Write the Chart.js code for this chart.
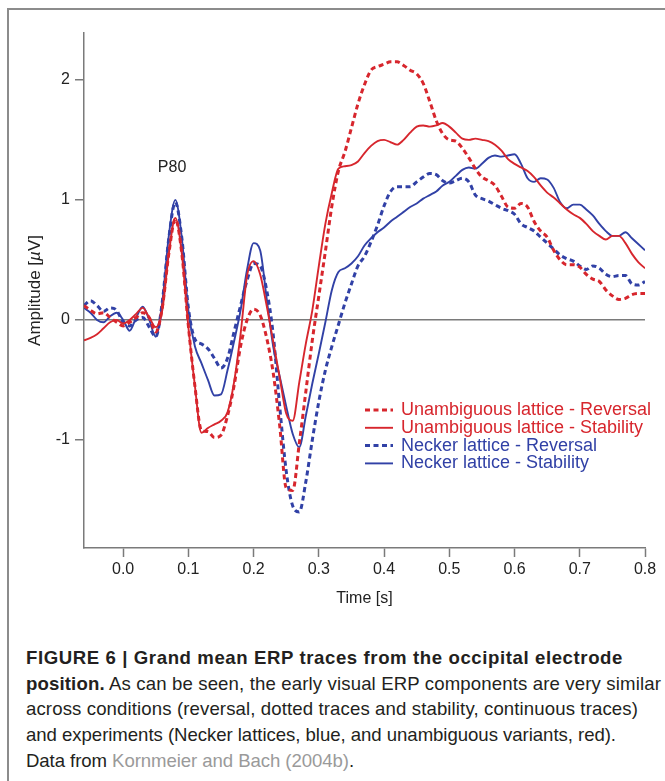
<!DOCTYPE html>
<html>
<head>
<meta charset="utf-8">
<script src="https://cdn.jsdelivr.net/npm/chart.js@4.4.1/dist/chart.umd.min.js"></script>
<style>
  html, body { margin: 0; padding: 0; background: #fff; }
  body { width: 665px; height: 781px; position: relative; overflow: hidden; font-family: "Liberation Sans", Arial, sans-serif; }
  #frame { position: absolute; left: 7px; top: 8px; width: 720px; height: 800px; border-top: 2px solid #8c8c8c; border-left: 2px solid #8c8c8c; }
  #chart { position: absolute; left: 0; top: 0; }
  #caption { position: absolute; left: 26px; top: 645px; font-size: 18.6px; line-height: 25.7px; color: #231f20; white-space: nowrap; }
  #caption .linea { display: block; }
  #caption b { font-weight: bold; }
  #caption .ref { color: #9a9a9a; }
</style>
</head>
<body>
<div id="frame"></div>
<canvas id="chart" width="665" height="620"></canvas>
<div id="caption">
  <span class="linea" data-ancho="597"><b>FIGURE 6 | Grand mean ERP traces from the occipital electrode</b></span>
  <span class="linea" data-ancho="635"><b>position.</b> As can be seen, the early visual ERP components are very similar</span>
  <span class="linea" data-ancho="612">across conditions (reversal, dotted traces and stability, continuous traces)</span>
  <span class="linea" data-ancho="590">and experiments (Necker lattices, blue, and unambiguous variants, red).</span>
  <span class="linea" data-ancho="328">Data from <span class="ref">Kornmeier and Bach (2004b)</span>.</span>
</div>
<script>
// tiempos (s)
const tiempos = [
  -0.06, -0.05, -0.04, -0.03, -0.02, -0.01, 0.00, 0.01, 0.02, 0.03,
  0.04, 0.05, 0.06, 0.07, 0.08, 0.09, 0.10, 0.11, 0.12, 0.13,
  0.14, 0.15, 0.16, 0.17, 0.18, 0.19, 0.20, 0.21, 0.22, 0.23,
  0.24, 0.25, 0.26, 0.27, 0.28, 0.29, 0.30, 0.31, 0.32, 0.33,
  0.34, 0.35, 0.36, 0.37, 0.38, 0.39, 0.40, 0.41, 0.42, 0.43,
  0.44, 0.45, 0.46, 0.47, 0.48, 0.49, 0.50, 0.51, 0.52, 0.53,
  0.54, 0.55, 0.56, 0.57, 0.58, 0.59, 0.60, 0.61, 0.62, 0.63,
  0.64, 0.65, 0.66, 0.67, 0.68, 0.69, 0.70, 0.71, 0.72, 0.73,
  0.74, 0.75, 0.76, 0.77, 0.78, 0.79, 0.80
];

// amplitudes (µV)
const unambReversal = [
  0.12, 0.08, 0.05, 0.06, 0.02, -0.02, -0.05, -0.02, 0.02, 0.06,
  0.02, -0.10, 0.10, 0.55, 0.84, 0.55, -0.05, -0.55, -0.92, -0.93,
  -0.98, -0.96, -0.80, -0.55, -0.22, 0.00, 0.09, 0.04, -0.15, -0.44,
  -0.88, -1.40, -1.42, -1.03, -0.60, -0.17, 0.20, 0.57, 0.95, 1.24,
  1.40, 1.60, 1.80, 1.96, 2.08, 2.11, 2.13, 2.15, 2.15, 2.12,
  2.08, 2.05, 1.97, 1.82, 1.66, 1.55, 1.50, 1.49, 1.43, 1.35,
  1.26, 1.19, 1.16, 1.12, 1.03, 0.94, 0.93, 0.97, 0.94, 0.82,
  0.74, 0.69, 0.58, 0.50, 0.46, 0.46, 0.44, 0.38, 0.34, 0.32,
  0.25, 0.20, 0.17, 0.18, 0.21, 0.22, 0.22
];
const unambStability = [
  -0.17, -0.15, -0.12, -0.07, -0.02, 0.00, -0.03, 0.00, 0.05, 0.10,
  0.02, -0.06, 0.08, 0.55, 0.85, 0.55, -0.06, -0.55, -0.94, -0.90,
  -0.87, -0.84, -0.77, -0.52, -0.12, 0.37, 0.49, 0.38, 0.12, -0.18,
  -0.48, -0.78, -0.84, -0.52, -0.20, 0.08, 0.45, 0.80, 1.06, 1.26,
  1.28, 1.29, 1.32, 1.39, 1.45, 1.49, 1.50, 1.48, 1.46, 1.50,
  1.56, 1.61, 1.62, 1.61, 1.62, 1.64, 1.61, 1.56, 1.51, 1.50,
  1.51, 1.50, 1.49, 1.46, 1.41, 1.34, 1.30, 1.27, 1.24, 1.19,
  1.12, 1.06, 1.02, 0.97, 0.92, 0.88, 0.85, 0.80, 0.74, 0.70,
  0.67, 0.70, 0.70, 0.64, 0.55, 0.48, 0.43
];
const neckerReversal = [
  0.12, 0.16, 0.12, 0.07, 0.10, 0.08, -0.02, -0.05, 0.00, 0.02,
  -0.06, -0.14, 0.15, 0.68, 0.98, 0.68, 0.10, -0.16, -0.20, -0.24,
  -0.32, -0.40, -0.32, -0.10, 0.12, 0.33, 0.47, 0.45, 0.25, -0.12,
  -0.72, -1.26, -1.55, -1.60, -1.35, -1.00, -0.68, -0.42, -0.22, -0.04,
  0.14, 0.30, 0.45, 0.53, 0.65, 0.79, 0.95, 1.07, 1.11, 1.11,
  1.11, 1.15, 1.19, 1.22, 1.21, 1.16, 1.14, 1.16, 1.18, 1.15,
  1.04, 1.01, 0.99, 0.96, 0.93, 0.91, 0.88, 0.80, 0.77, 0.74,
  0.69, 0.64, 0.59, 0.54, 0.51, 0.49, 0.45, 0.42, 0.45, 0.43,
  0.38, 0.36, 0.37, 0.37, 0.30, 0.29, 0.32
];
const neckerStability = [
  0.10, 0.06, 0.00, -0.02, 0.03, 0.06, 0.00, -0.09, 0.02, 0.11,
  0.00, -0.14, 0.15, 0.70, 1.00, 0.68, 0.08, -0.22, -0.36, -0.50,
  -0.63, -0.62, -0.42, -0.18, 0.08, 0.42, 0.64, 0.58, 0.18, -0.22,
  -0.47, -0.72, -0.95, -1.06, -0.80, -0.53, -0.28, -0.02, 0.25, 0.40,
  0.43, 0.47, 0.53, 0.62, 0.68, 0.73, 0.77, 0.82, 0.86, 0.90,
  0.94, 0.97, 1.01, 1.04, 1.07, 1.12, 1.15, 1.20, 1.25, 1.27,
  1.26, 1.30, 1.35, 1.37, 1.36, 1.37, 1.38, 1.30, 1.18, 1.15,
  1.18, 1.17, 1.10, 0.98, 0.93, 0.96, 0.96, 0.92, 0.87, 0.80,
  0.74, 0.70, 0.70, 0.73, 0.68, 0.63, 0.58
];

const ticksTiempo = [0.0, 0.1, 0.2, 0.3, 0.4, 0.5, 0.6, 0.7, 0.8];
const ticksAmplitud = [-1, 0, 1, 2];

const ROJO = "#d7262d";
const AZUL = "#3141a6";
const FUENTE = '"Liberation Sans", Arial, sans-serif';

// Ajustar el ancho de cada linea del pie de figura
document.querySelectorAll("#caption .linea").forEach(linea => {
    const objetivo = parseFloat(linea.dataset.ancho);
    const r = document.createRange();
    r.selectNodeContents(linea);
    const actual = r.getBoundingClientRect().width;
    const n = linea.textContent.length;
    if (n > 1) linea.style.letterSpacing = ((objetivo - actual) / n) + "px";
});

function serie(label, valores, color, punteada) {
    return {
        label: label,
        data: valores.map((v, i) => ({ x: tiempos[i], y: v })),
        borderColor: color,
        borderWidth: punteada ? 3 : 1.9,
        borderDash: punteada ? [5, 3.5] : [],
        pointRadius: 0,
        fill: false,
        cubicInterpolationMode: "monotone"
    };
}

// leyenda dentro del area + etiqueta P80 + titulo eje Y con µ en cursiva
const extras = {
    id: "extras",
    afterDatasetsDraw(chart) {
        const ctx = chart.ctx;
        const sx = chart.scales.x, sy = chart.scales.y;

        ctx.save();
        ctx.fillStyle = "#222";
        ctx.font = "16px " + FUENTE;
        ctx.textAlign = "center";
        ctx.textBaseline = "middle";
        ctx.fillText("P80", sx.getPixelForValue(0.075), sy.getPixelForValue(1.27));

        chart.data.datasets.forEach((ds, i) => {
            const y = 410 + i * 17.8;
            ctx.strokeStyle = ds.borderColor;
            ctx.lineWidth = ds.borderWidth;
            ctx.setLineDash(ds.borderDash);
            ctx.beginPath();
            ctx.moveTo(365, y);
            ctx.lineTo(393, y);
            ctx.stroke();
            ctx.setLineDash([]);
            ctx.fillStyle = ds.borderColor;
            ctx.font = "18px " + FUENTE;
            ctx.textAlign = "left";
            ctx.fillText(ds.label, 401, y);
        });

        // Amplitude [µV]
        const partes = [["Amplitude [", "17px "], ["\u00b5", "italic 17px "], ["V]", "17px "]];
        let total = 0;
        partes.forEach(p => { ctx.font = p[1] + FUENTE; total += ctx.measureText(p[0]).width; });
        const cy = (chart.chartArea.top + chart.chartArea.bottom) / 2;
        ctx.translate(35, cy);
        ctx.rotate(-Math.PI / 2);
        ctx.fillStyle = "#222";
        ctx.textAlign = "left";
        let px = -total / 2;
        partes.forEach(p => {
            ctx.font = p[1] + FUENTE;
            ctx.fillText(p[0], px, 0);
            px += ctx.measureText(p[0]).width;
        });
        ctx.restore();
    }
};

new Chart(document.getElementById("chart"), {
    type: "line",
    data: {
        datasets: [
            serie("Unambiguous lattice - Reversal", unambReversal, ROJO, true),
            serie("Unambiguous lattice - Stability", unambStability, ROJO, false),
            serie("Necker lattice - Reversal", neckerReversal, AZUL, true),
            serie("Necker lattice - Stability", neckerStability, AZUL, false)
        ]
    },
    options: {
        responsive: false,
        animation: false,
        layout: { padding: { left: 20, top: 33, right: 20, bottom: 0 } },
        plugins: {
            legend: { display: false },
            tooltip: { enabled: false }
        },
        scales: {
            x: {
                type: "linear",
                min: -0.06,
                max: 0.8,
                afterBuildTicks: s => { s.ticks = ticksTiempo.map(v => ({ value: v })); },
                afterFit: s => { s.height = 72; },
                ticks: {
                    callback: v => v.toFixed(1),
                    color: "#222",
                    font: { size: 16, family: FUENTE },
                    padding: 3,
                    maxRotation: 0,
                    autoSkip: false
                },
                grid: { drawOnChartArea: false, tickLength: 9, tickColor: "#7a7a7a", tickWidth: 1.5 },
                border: { color: "#7a7a7a", width: 1.5 },
                title: {
                    display: true,
                    text: "Time [s]",
                    color: "#222",
                    font: { size: 16, family: FUENTE },
                    padding: { top: 4, bottom: 12 }
                }
            },
            y: {
                min: -1.9,
                max: 2.39,
                afterBuildTicks: s => { s.ticks = ticksAmplitud.map(v => ({ value: v })); },
                afterFit: s => { s.width = 64; },
                ticks: {
                    callback: v => String(v),
                    color: "#222",
                    font: { size: 16, family: FUENTE },
                    padding: 5
                },
                grid: {
                    color: c => (c.tick && c.tick.value === 0) ? "#7a7a7a" : "rgba(0,0,0,0)",
                    lineWidth: 1.5,
                    tickLength: 9,
                    tickColor: "#7a7a7a",
                    tickWidth: 1.5
                },
                border: { color: "#7a7a7a", width: 1.5 }
            }
        }
    },
    plugins: [extras]
});
</script>
</body>
</html>
